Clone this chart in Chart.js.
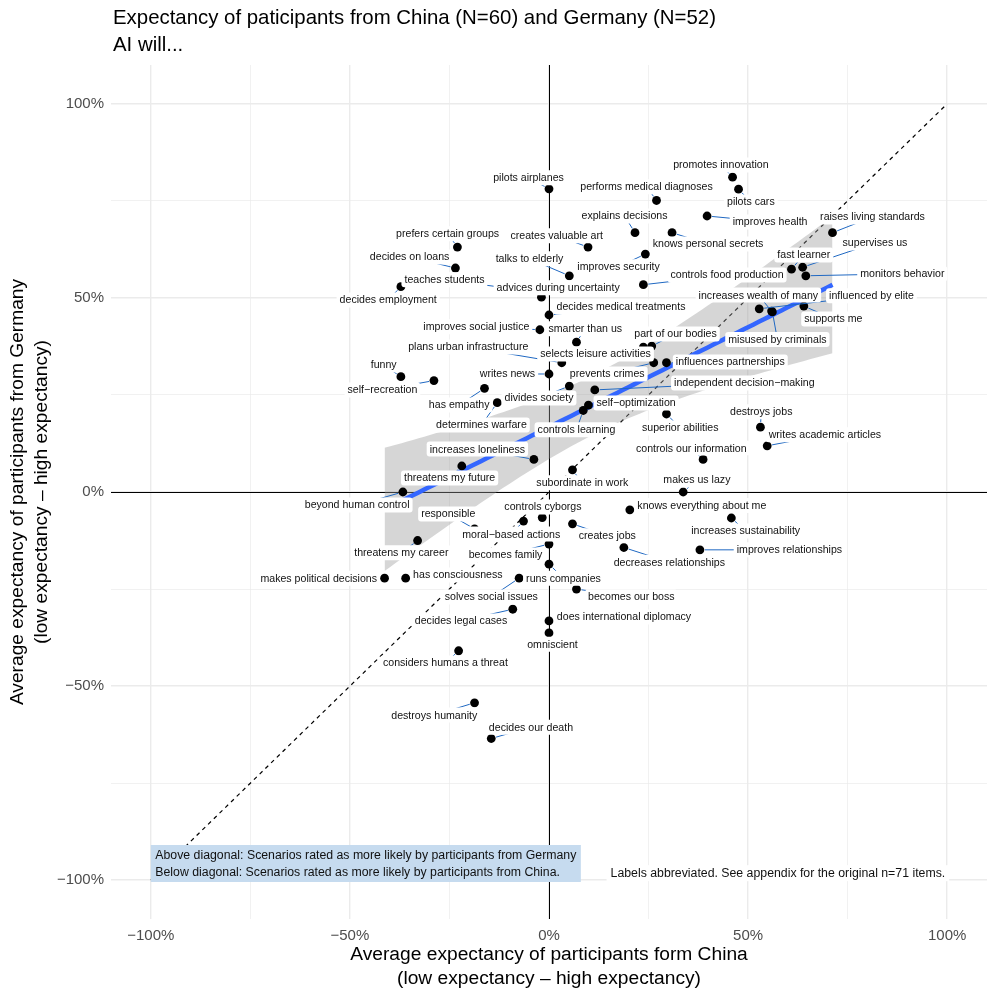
<!DOCTYPE html>
<html>
<head>
<meta charset="utf-8">
<script src="https://cdn.jsdelivr.net/npm/chart.js@4"></script>
<style>
  body { margin: 0; background: #fff; }
  #wrap { width: 997px; height: 997px; }
</style>
</head>
<body>
<div id="wrap"><canvas id="chart" width="997" height="997"></canvas></div>
<script>
// Datos: escenarios, expectativa media China (x) y Alemania (y), en %
const items = [
  'pilots airplanes', 'promotes innovation', 'pilots cars', 'performs medical diagnoses', 'improves health',
  'explains decisions', 'knows personal secrets', 'raises living standards', 'prefers certain groups', 'creates valuable art',
  'improves security', 'decides on loans', 'talks to elderly', 'fast learner', 'supervises us',
  'monitors behavior', 'controls food production', 'decides employment', 'teaches students', 'advices during uncertainty',
  'decides medical treatments', 'increases wealth of many', 'influenced by elite', 'supports me', 'misused by criminals',
  'improves social justice', 'smarter than us', 'part of our bodies', 'plans urban infrastructure', 'selects leisure activities',
  'writes news', 'prevents crimes', 'influences partnerships', 'funny', 'self\u2212recreation',
  'has empathy', 'divides society', 'independent decision\u2212making', 'determines warfare', 'self\u2212optimization',
  'controls learning', 'superior abilities', 'destroys jobs', 'writes academic articles', 'increases loneliness',
  'controls our information', 'threatens my future', 'subordinate in work', 'beyond human control', 'makes us lazy',
  'knows everything about me', 'controls cyborgs', 'increases sustainability', 'moral\u2212based actions', 'creates jobs',
  'responsible', 'threatens my career', 'becomes family', 'decreases relationships', 'improves relationships',
  'runs companies', 'makes political decisions', 'has consciousness', 'solves social issues', 'becomes our boss',
  'decides legal cases', 'does international diplomacy', 'omniscient', 'considers humans a threat', 'destroys humanity',
  'decides our death'
];
const china = [
  0, 46.1, 47.6, 27.0, 39.7,
  21.6, 30.9, 71.2, -23.0, 9.8,
  24.2, -23.5, 5.1, 60.9, 63.7,
  64.5, 23.7, -37.2, -10.8, -1.9,
  0, 55.9, 52.8, 64.0, 56.1,
  -2.3, 6.9, 25.8, 3.2, 23.7,
  0, 26.3, 29.5, -37.2, -28.9,
  -16.2, 5.1, 11.5, -13.0, 9.9,
  8.6, 29.5, 53.1, 54.8, -3.8,
  38.7, -21.9, 5.9, -36.7, 33.7,
  20.3, -1.7, 45.8, -6.4, 5.9,
  -18.7, -33.0, 0, 18.8, 37.9,
  0, -41.3, -36.0, -7.5, 6.9,
  -9.1, 0, 0, -22.7, -18.7,
  -14.5
];
const germany = [
  78.1, 81.1, 78.0, 75.1, 71.1,
  66.8, 66.8, 66.8, 63.1, 63.1,
  61.3, 57.7, 55.7, 57.4, 57.9,
  55.7, 53.4, 52.9, 52.6, 50.2,
  45.6, 46.6, 47.2, 47.9, 46.4,
  41.8, 38.6, 37.6, 33.3, 37.3,
  30.4, 33.3, 33.3, 29.7, 28.7,
  26.7, 27.3, 26.3, 23.0, 22.4,
  21.0, 20.1, 16.7, 11.9, 8.4,
  8.4, 6.7, 5.7, 0, 0,
  -4.6, -6.6, -6.7, -7.5, -8.2,
  -9.5, -12.5, -13.4, -14.3, -14.9,
  -18.6, -22.2, -22.2, -22.2, -25.0,
  -30.2, -33.2, -36.3, -40.9, -54.3,
  -63.5
];

// Desplazamiento de cada etiqueta respecto a su punto (px)
const labelDx = [
  -20.5, -11.7, 12.3, -10, 63,
  -10.5, 36, 40, -9.8, -31.3,
  -26.8, -45.8, -39.8, 12.3, 72.3,
  96.5, 83.7, -12.7, -61.5, 16.7,
  72, -13.2, 112.2, 29.5, 5,
  -63.5, 8.8, 23.8, -93.5, -47.8,
  -41.5, -46.5, 63.8, -17.2, -51.5,
  -25.3, -30.3, 149.5, -15.8, 47.7,
  -6.8, 13.8, 0.8, 57.7, -56.5,
  -11.8, -12.2, 9.8, -45.7, 13.7,
  72, 0.7, 14.3, -12.3, 34.8,
  -26.3, -16.3, -43.5, 45.5, 89.5,
  14.5, -65.8, 52.2, -27.8, 54.8,
  -51.7, 75, 3.5, -13.2, -40.3,
  39.7
];
const labelDy = [
  -11, -12.3, 12.7, -13.7, 6,
  -16.7, 11.3, -15.7, -13.3, -11.3,
  12.7, -11, -17, -14.3, -24.3,
  -2, -9.7, 13.3, -8, -9.3,
  -8, -16, -13, 13, 27.5,
  -3, -13.3, -12, -15.7, 6.7,
  0, 11.3, -0.7, -11.7, 9.3,
  16.7, 12, -7, 22.3, -2,
  19.3, 14, -15.3, -11, -10.3,
  -11.3, 12, 13, 13, -12,
  -4.3, -10.7, 13, 13, 12,
  -15, 12.3, 11, 14.7, 0,
  14, 0, -3.3, 18.7, 8,
  11.7, -4, 11.3, 12.3, 12.3,
  -11.3
];

const tickValues = [-100, -75, -50, -25, 0, 25, 50, 75, 100];
const majorTicks = [-100, -50, 0, 50, 100];
const axisRange = [-110, 110];
const diagRange = [-100, 100];
const tValue = 1.995; // t(0.975, df = 69)

const titleLines = ['Expectancy of paticipants from China (N=60) and Germany (N=52)', 'AI will...'];
const xTitleLines = ['Average expectancy of participants form China', '(low expectancy \u2013 high expectancy)'];
const yTitleLines = ['Average expectancy of participants from Germany', '(low expectancy \u2013 high expectancy)'];
const noteLines = [
  'Above diagonal: Scenarios rated as more likely by participants from Germany',
  'Below diagonal: Scenarios rated as more likely by participants from China.'
];
const noteAnchor = { x: -100, y: -95.7 };
const sideNote = 'Labels abbreviated. See appendix for the original n=71 items.';
const sideNoteAnchor = { x: 99.5, y: -98.2 };

const FONT = '"Liberation Sans", Arial, Helvetica, sans-serif';

// Función para formatear porcentajes con signo menos tipográfico
function pct(v) {
  return (v < 0 ? '\u2212' : '') + Math.abs(v) + '%';
}

// Función para ajustar una regresión lineal (como geom_smooth(method = "lm"))
function linearFit(xs, ys) {
  const n = xs.length;
  const mx = xs.reduce((a, b) => a + b, 0) / n;
  const my = ys.reduce((a, b) => a + b, 0) / n;
  let sxx = 0, sxy = 0;
  for (let i = 0; i < n; i++) {
    sxx += (xs[i] - mx) * (xs[i] - mx);
    sxy += (xs[i] - mx) * (ys[i] - my);
  }
  const b = sxy / sxx;
  const a = my - b * mx;
  let sse = 0;
  for (let i = 0; i < n; i++) {
    const r = ys[i] - (a + b * xs[i]);
    sse += r * r;
  }
  return { a: a, b: b, mx: mx, sxx: sxx, s: Math.sqrt(sse / (n - 2)), n: n };
}

const fit = linearFit(china, germany);
const xMin = Math.min(...china), xMax = Math.max(...china);
const fitLine = [], bandUpper = [], bandLower = [];
for (let i = 0; i < 80; i++) {
  const x = xMin + (xMax - xMin) * i / 79;
  const y = fit.a + fit.b * x;
  const se = fit.s * Math.sqrt(1 / fit.n + (x - fit.mx) * (x - fit.mx) / fit.sxx);
  fitLine.push({ x: x, y: y });
  bandUpper.push({ x: x, y: y + tValue * se });
  bandLower.push({ x: x, y: y - tValue * se });
}

const points = china.map((x, i) => ({ x: x, y: germany[i] }));

// Líneas de referencia: ejes en cero y diagonal
const refLines = {
  id: 'refLines',
  beforeDatasetsDraw(chart) {
    const { ctx, chartArea, scales } = chart;
    const x0 = Math.round(scales.x.getPixelForValue(0)) + 0.5;
    const y0 = Math.round(scales.y.getPixelForValue(0)) + 0.5;
    ctx.save();
    ctx.strokeStyle = '#000';
    ctx.lineWidth = 1;
    ctx.beginPath();
    ctx.moveTo(x0, chartArea.top);
    ctx.lineTo(x0, chartArea.bottom);
    ctx.moveTo(chartArea.left, y0);
    ctx.lineTo(chartArea.right, y0);
    ctx.stroke();
    ctx.lineWidth = 1.2;
    ctx.setLineDash([4, 4]);
    ctx.beginPath();
    ctx.moveTo(scales.x.getPixelForValue(diagRange[0]), scales.y.getPixelForValue(diagRange[0]));
    ctx.lineTo(scales.x.getPixelForValue(diagRange[1]), scales.y.getPixelForValue(diagRange[1]));
    ctx.stroke();
    ctx.restore();
  }
};

// Etiquetas de los puntos, notas y títulos
const annotations = {
  id: 'annotations',
  afterDatasetsDraw(chart) {
    const { ctx, scales, chartArea } = chart;
    ctx.save();

    // segmentos
    ctx.strokeStyle = '#1f68c2';
    ctx.lineWidth = 1;
    items.forEach((name, i) => {
      const px = scales.x.getPixelForValue(china[i]);
      const py = scales.y.getPixelForValue(germany[i]);
      const lx = px + labelDx[i], ly = py + labelDy[i];
      const d = Math.hypot(lx - px, ly - py);
      if (d < 12) return;
      const ex = px + (lx - px) * 5 / d, ey = py + (ly - py) * 5 / d;
      ctx.beginPath();
      ctx.moveTo(lx, ly);
      ctx.lineTo(ex, ey);
      ctx.stroke();
    });

    // etiquetas
    ctx.font = '10.6px ' + FONT;
    ctx.textAlign = 'center';
    ctx.textBaseline = 'middle';
    items.forEach((name, i) => {
      const px = scales.x.getPixelForValue(china[i]);
      const py = scales.y.getPixelForValue(germany[i]);
      const lx = px + labelDx[i], ly = py + labelDy[i];
      const w = ctx.measureText(name).width;
      ctx.fillStyle = '#fff';
      ctx.beginPath();
      ctx.roundRect(lx - w / 2 - 3, ly - 7.5, w + 6, 15, 3);
      ctx.fill();
      ctx.fillStyle = '#111';
      ctx.fillText(name, lx, ly + 0.5);
    });

    // nota azul
    ctx.font = '12.3px ' + FONT;
    ctx.textAlign = 'left';
    const nx = scales.x.getPixelForValue(noteAnchor.x);
    const ny = scales.y.getPixelForValue(noteAnchor.y);
    const nw = Math.max(...noteLines.map(t => ctx.measureText(t).width));
    ctx.fillStyle = '#c6dbef';
    ctx.fillRect(nx, ny - 18.5, nw + 9, 37);
    ctx.fillStyle = '#111';
    ctx.fillText(noteLines[0], nx + 4.5, ny - 8);
    ctx.fillText(noteLines[1], nx + 4.5, ny + 9);

    // nota lateral
    const sx = scales.x.getPixelForValue(sideNoteAnchor.x);
    const sy = scales.y.getPixelForValue(sideNoteAnchor.y);
    const sw = ctx.measureText(sideNote).width;
    ctx.fillStyle = '#fff';
    ctx.fillRect(sx - sw - 4, sy - 8, sw + 8, 16);
    ctx.fillStyle = '#111';
    ctx.textAlign = 'right';
    ctx.fillText(sideNote, sx, sy);

    // títulos
    ctx.fillStyle = '#000';
    ctx.textAlign = 'left';
    ctx.font = '20.4px ' + FONT;
    ctx.fillText(titleLines[0], 113, 18);
    ctx.fillText(titleLines[1], 113, 45);

    ctx.font = '19.2px ' + FONT;
    ctx.textAlign = 'center';
    const cx = (chartArea.left + chartArea.right) / 2;
    ctx.fillText(xTitleLines[0], cx, 955);
    ctx.fillText(xTitleLines[1], cx, 979);

    const cy = (chartArea.top + chartArea.bottom) / 2;
    ctx.translate(18, cy);
    ctx.rotate(-Math.PI / 2);
    ctx.fillText(yTitleLines[0], 0, 0);
    ctx.fillText(yTitleLines[1], 0, 24);
    ctx.restore();
  }
};

function axisOptions(fitSize) {
  return {
    type: 'linear',
    min: axisRange[0],
    max: axisRange[1],
    afterBuildTicks: scale => { scale.ticks = tickValues.map(v => ({ value: v })); },
    afterFit: fitSize,
    border: { display: false },
    grid: {
      drawTicks: false,
      color: '#ebebeb',
      lineWidth: c => majorTicks.includes(c.tick.value) ? 1.4 : 0.7
    },
    ticks: {
      autoSkip: false,
      maxRotation: 0,
      color: '#4d4d4d',
      font: { family: FONT, size: 15 },
      callback: v => majorTicks.includes(v) ? pct(v) : ''
    }
  };
}

const xAxis = axisOptions(s => { s.height = 78; });
xAxis.ticks.padding = 8;
const yAxis = axisOptions(s => { s.width = 111; });
yAxis.ticks.padding = 7;

new Chart(document.getElementById('chart'), {
  type: 'scatter',
  data: {
    datasets: [
      {
        data: points,
        order: 0,
        backgroundColor: '#000',
        borderWidth: 0,
        pointRadius: 4.4,
        pointHoverRadius: 4.4
      },
      {
        type: 'line',
        data: fitLine,
        order: 1,
        borderColor: '#3366ff',
        borderWidth: 4.5,
        pointRadius: 0,
        fill: false
      },
      {
        type: 'line',
        data: bandUpper,
        order: 2,
        borderWidth: 0,
        pointRadius: 0,
        backgroundColor: 'rgba(153,153,153,0.4)',
        fill: '+1'
      },
      {
        type: 'line',
        data: bandLower,
        order: 3,
        borderWidth: 0,
        pointRadius: 0,
        fill: false
      }
    ]
  },
  options: {
    responsive: false,
    animation: false,
    devicePixelRatio: 1,
    layout: { padding: { top: 65, right: 10, bottom: 0, left: 0 } },
    plugins: {
      legend: { display: false },
      tooltip: { enabled: false },
      title: { display: false }
    },
    scales: { x: xAxis, y: yAxis }
  },
  plugins: [refLines, annotations]
});
</script>
</body>
</html>
